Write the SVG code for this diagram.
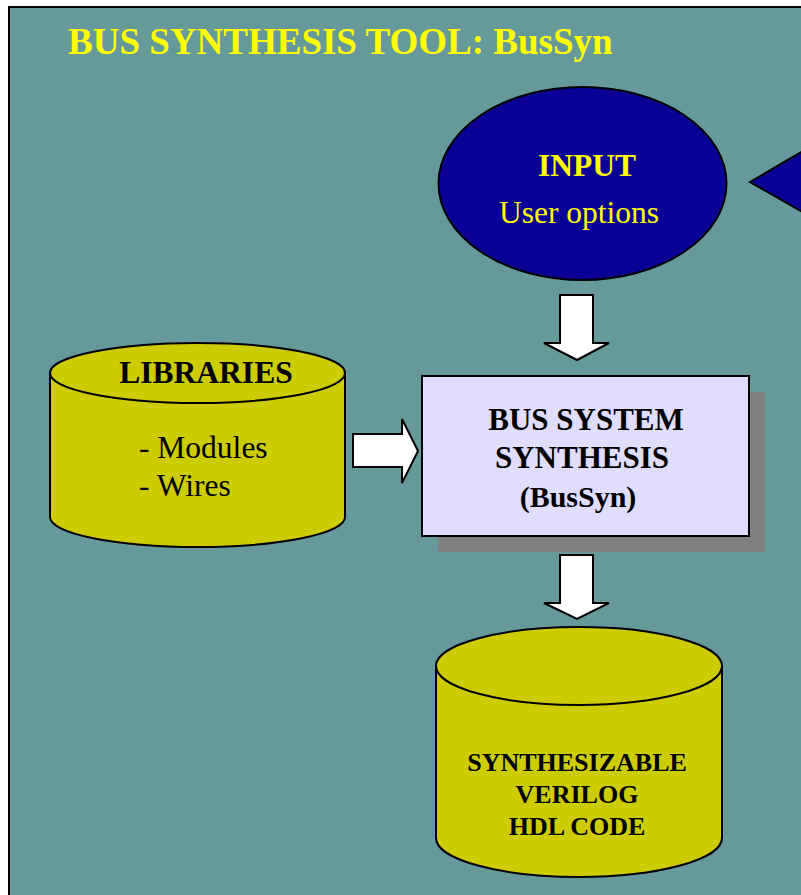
<svg xmlns="http://www.w3.org/2000/svg" width="801" height="895" viewBox="0 0 801 895">
<style>
.bg{fill:#669999;stroke:#000;stroke-width:2}
.cyl{fill:#CCCC00;stroke:#000;stroke-width:2}
.arrow{fill:#fff;stroke:#000;stroke-width:2;stroke-linejoin:miter}
.t{font-family:"Liberation Serif","Times New Roman",serif}
.b{font-weight:bold}
</style>
<rect width="801" height="895" fill="#fff"/>
<rect class="bg" x="9" y="7" width="900" height="900"/>
<text class="t b" x="68" y="54" font-size="37" fill="#FFFF00">BUS SYNTHESIS TOOL: BusSyn</text>

<g id="input">
<ellipse cx="582.5" cy="183.5" rx="144" ry="96.5" fill="#0A0096" stroke="#000" stroke-width="2"/>
<text class="t b" x="587" y="176" font-size="31.5" fill="#FFFF00" text-anchor="middle">INPUT</text>
<text class="t" x="579" y="223" font-size="31.5" fill="#FFFF00" text-anchor="middle">User options</text>
</g>

<g id="pointer">
<polygon points="750,182 820,141 820,222" fill="#0A0096" stroke="#000" stroke-width="2"/>
</g>

<g id="libraries">
<path class="cyl" d="M50,373 V517 A147.5,30 0 0 0 345,517 V373"/>
<ellipse class="cyl" cx="197.5" cy="373" rx="147.5" ry="30"/>
<text class="t b" x="206" y="383" font-size="31.5" text-anchor="middle">LIBRARIES</text>
<text class="t" x="139" y="458" font-size="31.5">- Modules</text>
<text class="t" x="139" y="496" font-size="31.5">- Wires</text>
</g>

<g id="bussyn">
<rect x="438" y="392" width="327" height="160" fill="#808080"/>
<rect x="422" y="376" width="327" height="160" fill="#E0DDFF" stroke="#000" stroke-width="2"/>
<text class="t b" x="586" y="430" font-size="31" text-anchor="middle">BUS SYSTEM</text>
<text class="t b" x="582" y="468" font-size="31" text-anchor="middle">SYNTHESIS</text>
<text class="t b" x="578" y="507" font-size="30" text-anchor="middle">(BusSyn)</text>
</g>

<g id="output">
<path class="cyl" d="M436,666 V838 A143,39 0 0 0 722,838 V666"/>
<ellipse class="cyl" cx="579" cy="666" rx="143" ry="39"/>
<text class="t b" x="577" y="771" font-size="26" text-anchor="middle">SYNTHESIZABLE</text>
<text class="t b" x="577" y="803" font-size="26" text-anchor="middle">VERILOG</text>
<text class="t b" x="577" y="835" font-size="26" text-anchor="middle">HDL CODE</text>
</g>

<g id="connectors">
<polygon class="arrow" points="560,295 593,295 593,343 609,343 577,360 544,343 560,343"/>
<polygon class="arrow" points="353,434 402,434 402,419 418,451 402,483 402,467 353,467"/>
<polygon class="arrow" points="560,555 593,555 593,603 609,603 577,619 544,603 560,603"/>
</g>
</svg>
